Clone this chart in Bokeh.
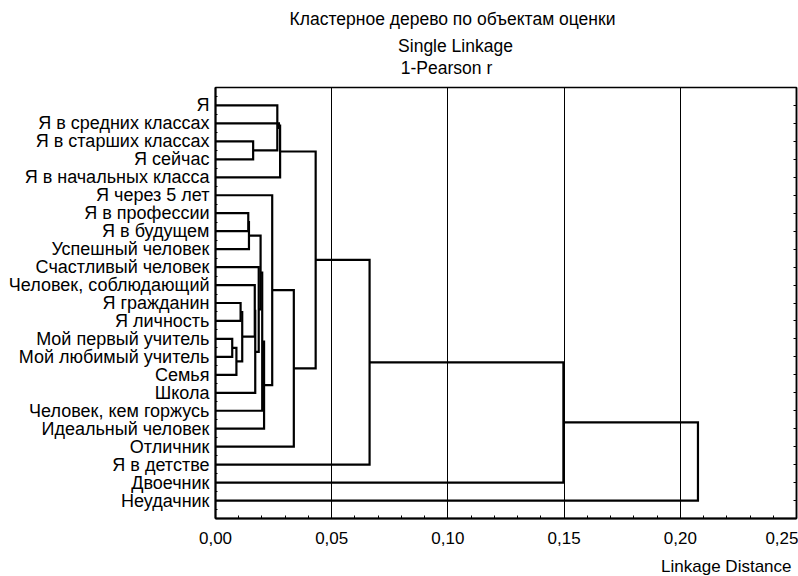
from bokeh.plotting import figure
from bokeh.layouts import column
from bokeh.models import Range1d, FixedTicker, LinearAxis, CustomJSTickFormatter, ColumnDataSource
from bokeh.core.properties import value
from bokeh.embed import file_html
from bokeh.resources import INLINE

# ---- data ----
leaf_names = [
    "Я", "Я в средних классах", "Я в старших классах", "Я сейчас",
    "Я в начальных класса", "Я через 5 лет", "Я в профессии", "Я в будущем",
    "Успешный человек", "Счастливый человек", "Человек, соблюдающий",
    "Я гражданин", "Я личность", "Мой первый учитель", "Мой любимый учитель",
    "Семья", "Школа", "Человек, кем горжусь", "Идеальный человек",
    "Отличник", "Я в детстве", "Двоечник", "Неудачник",
]
# merge children: positive = leaf number (1-based), negative = -(merge number)
merge_a = [14, -1, 12, -3, 7, -5, 3, 11, -8, 10, -6, -11, -12, 6, 1, 2, -16, -14, -17, -19, -20, -21]
merge_b = [15, 16, 13, -2, 8, 9, 4, -4, 17, -9, -10, 18, 19, -13, -7, -15, 5, 20, -18, 21, 22, 23]
merge_dist = [0.0072, 0.0090, 0.0108, 0.0115, 0.0141, 0.0144, 0.0162, 0.0169, 0.0171,
              0.0186, 0.0194, 0.0201, 0.0209, 0.0244, 0.0266, 0.0273, 0.0278, 0.0337,
              0.0431, 0.0663, 0.1497, 0.2076]
x_ticks = [0.0, 0.05, 0.10, 0.15, 0.20, 0.25]
x_minor = [0.01, 0.02, 0.03, 0.04, 0.06, 0.07, 0.08, 0.09, 0.11, 0.12, 0.13, 0.14,
           0.16, 0.17, 0.18, 0.19, 0.21, 0.22, 0.23, 0.24]
title_lines = ["Кластерное дерево по объектам оценки", "Single Linkage", "1-Pearson r"]
x_label = "Linkage Distance"

# ---- build dendrogram paths ----
pos = {}
height = {}
for i in range(len(leaf_names)):
    pos[i + 1] = float(i + 1)
    height[i + 1] = 0.0

xs, ys = [], []
for m, (a, b, d) in enumerate(zip(merge_a, merge_b, merge_dist)):
    key = -(m + 1)
    xs.append([height[a], d, d, height[b]])
    ys.append([pos[a], pos[a], pos[b], pos[b]])
    pos[key] = (pos[a] + pos[b]) / 2
    height[key] = d

FONT = "Liberation Sans"
W = 798
LEFT = 215
RIGHT = 2
TOP_H = 85
MAIN_H = 470
BOT_H = 21


def strip(h):
    # frame aligned with the main plot frame; x in page pixels
    s = figure(width=W, height=h, x_range=Range1d(LEFT, W - RIGHT), y_range=Range1d(h, 0),
               output_backend="svg", toolbar_location=None,
               min_border_left=LEFT, min_border_right=RIGHT, min_border_top=0, min_border_bottom=0,
               x_axis_type=None, y_axis_type=None)
    s.grid.visible = False
    s.outline_line_color = None
    s.background_fill_color = "white"
    s.border_fill_color = "white"
    return s


# ---- title strip ----
top = strip(TOP_H)
top.text(x=[452, 455, 446], y=[18, 45, 67], text=title_lines,
         text_font=value(FONT), text_font_size=value("17.5px"), text_color="black",
         text_align="center", text_baseline="middle")

# ---- main plot ----
p = figure(width=W, height=MAIN_H, x_range=Range1d(0, 0.25), y_range=Range1d(len(leaf_names) + 1, 0),
           output_backend="svg", toolbar_location=None,
           min_border_left=LEFT, min_border_right=RIGHT, min_border_top=2, min_border_bottom=37)
p.outline_line_color = "black"
p.outline_line_width = 1.5
p.background_fill_color = "white"
p.border_fill_color = "white"

src = ColumnDataSource(dict(xs=xs, ys=ys))
p.multi_line("xs", "ys", source=src, line_color="black", line_width=2.2, line_join="miter")

p.ygrid.visible = False
p.xgrid.ticker = FixedTicker(ticks=[t for t in x_ticks if 0 < t < 0.25])
p.xgrid.grid_line_color = "black"
p.xgrid.grid_line_width = 1
p.xgrid.grid_line_alpha = 1

xa = p.xaxis[0]
xa.ticker = FixedTicker(ticks=x_ticks, minor_ticks=x_minor)
xa.formatter = CustomJSTickFormatter(code="return tick.toFixed(2).replace('.', ',');")
xa.axis_line_width = 2
xa.major_tick_in = 5
xa.major_tick_out = 0
xa.minor_tick_in = 3
xa.minor_tick_out = 0
xa.major_label_standoff = 13
xa.major_label_text_font = FONT
xa.major_label_text_font_size = "17px"
xa.major_label_text_color = "black"

ya = p.yaxis[0]
leaf_ticks = list(range(1, len(leaf_names) + 1))
leaf_minor = [k + 0.5 for k in range(0, len(leaf_names) + 1)]
ya.ticker = FixedTicker(ticks=leaf_ticks, minor_ticks=leaf_minor)
ya.formatter = CustomJSTickFormatter(args=dict(names=leaf_names),
    code="const i = Math.round(tick) - 1; return (i >= 0 && i < names.length) ? names[i] : '';")
ya.axis_line_width = 2
ya.major_tick_in = 4
ya.major_tick_out = 0
ya.minor_tick_in = 2
ya.minor_tick_out = 0
ya.major_label_standoff = 6
ya.major_label_text_font = FONT
ya.major_label_text_font_size = "18px"
ya.major_label_text_color = "black"

ra = LinearAxis(ticker=FixedTicker(ticks=leaf_ticks, minor_ticks=[]),
                formatter=CustomJSTickFormatter(code="return '';"),
                major_tick_in=3, major_tick_out=0, major_label_standoff=0,
                axis_line_width=1.5)
p.add_layout(ra, "right")

# ---- axis title strip ----
bot = strip(BOT_H)
bot.text(x=[791], y=[11], text=[x_label],
         text_font=value(FONT), text_font_size=value("17px"), text_color="black",
         text_align="right", text_baseline="middle")

page = column(top, p, bot, spacing=0)
open("out.html", "w").write(file_html(page, INLINE))
